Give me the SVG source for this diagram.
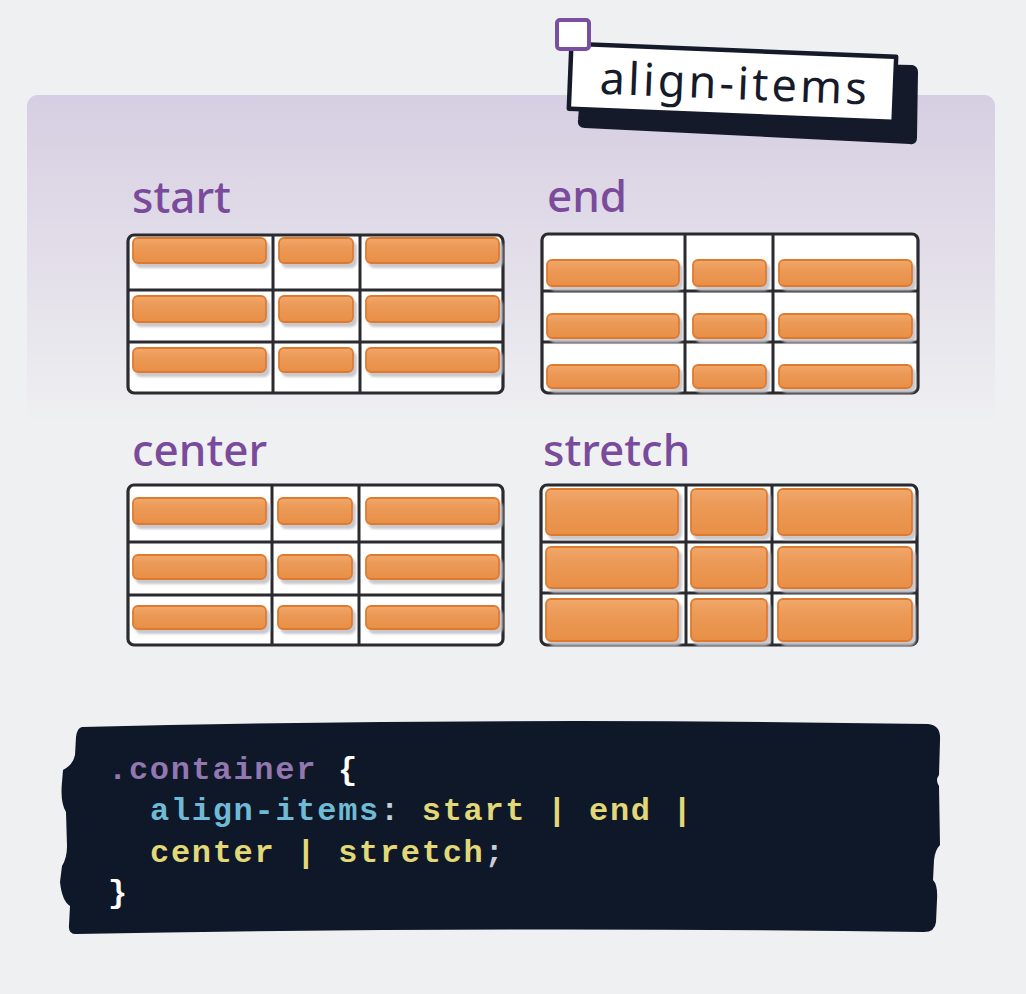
<svg xmlns="http://www.w3.org/2000/svg" width="1026" height="994" viewBox="0 0 1026 994">
<defs>
<linearGradient id="panelGrad" x1="0" y1="0" x2="0" y2="1">
<stop offset="0" stop-color="#d6cee2"/>
<stop offset="0.55" stop-color="#e4e0ea"/>
<stop offset="1" stop-color="#eff0f2"/>
</linearGradient>
<linearGradient id="barGrad" x1="0" y1="0" x2="0" y2="1">
<stop offset="0" stop-color="#f0a86c"/>
<stop offset="0.35" stop-color="#ec9a57"/>
<stop offset="1" stop-color="#e88f47"/>
</linearGradient>
<filter id="barShadow" x="-10%" y="-20%" width="130%" height="160%">
<feDropShadow dx="3" dy="4" stdDeviation="0.8" flood-color="#c2c2c7" flood-opacity="0.9"/>
</filter>
</defs>
<style>
.label{font-family:"Noto Sans","Open Sans",sans-serif;font-size:44px;font-weight:500;fill:#7a4b9b}
.cell{fill:#ffffff;stroke:#2b2b2f;stroke-width:3.2}
.gl{stroke:#2b2b2f;stroke-width:3;stroke-linecap:round;fill:none}
.bar{fill:url(#barGrad);stroke:#de7a2e;stroke-width:1.8}
.code{font-family:"Liberation Mono","DejaVu Sans Mono",monospace;font-size:32px;font-weight:bold;letter-spacing:1.7px}
.pu{fill:#9277b0}.cy{fill:#6fbbd6}.ye{fill:#e2d878}.wh{fill:#ffffff}.gr{fill:#c9cdd6}
</style>
<rect width="1026" height="994" fill="#eff0f2"/>
<g id="panel">
<rect x="27" y="95" width="968" height="330" rx="11" fill="url(#panelGrad)"/>
</g>
<g id="title">
<path d="M585 60 L912 67 Q916 68 916 72 L915 138 Q915 143 910 142 L585 126 Q579 126 580 120 Z" fill="#151a2a" stroke="#151a2a" stroke-width="4" stroke-linejoin="round"/>
<g transform="rotate(2.3 732.5 82.75)">
<rect x="570" y="50.25" width="325" height="65" fill="#ffffff" stroke="#151a2a" stroke-width="4.5" stroke-linejoin="round"/>
<text x="735" y="99" text-anchor="middle" font-family="Noto Sans, Open Sans, sans-serif" font-size="45" letter-spacing="3.2" fill="#161b2b">align-items</text>
</g>
<rect x="557" y="20" width="32" height="29" rx="3" fill="#ffffff" stroke="#7b4fa0" stroke-width="4"/>
</g>
<g id="node-start">
<text class="label" x="132" y="213">start</text>
<rect class="cell" x="128" y="235" width="375" height="158" rx="6"/>
<path class="gl" d="M273 236 L273 392 M360 236 L360 392 M129 290 L502 290 M129 342 L502 342"/>
<g filter="url(#barShadow)">
<rect class="bar" x="133" y="238" width="133" height="25" rx="5"/>
<rect class="bar" x="279" y="238" width="74" height="25" rx="5"/>
<rect class="bar" x="366" y="238" width="133" height="25" rx="5"/>
<rect class="bar" x="133" y="296" width="133" height="26" rx="5"/>
<rect class="bar" x="279" y="296" width="74" height="26" rx="5"/>
<rect class="bar" x="366" y="296" width="133" height="26" rx="5"/>
<rect class="bar" x="133" y="348" width="133" height="24" rx="5"/>
<rect class="bar" x="279" y="348" width="74" height="24" rx="5"/>
<rect class="bar" x="366" y="348" width="133" height="24" rx="5"/>
</g>
</g>
<g id="node-end">
<text class="label" x="547" y="212">end</text>
<rect class="cell" x="542" y="234" width="376" height="159" rx="6"/>
<path class="gl" d="M685 235 L685 392 M773 235 L773 392 M543 291 L917 291 M543 342 L917 342"/>
<g filter="url(#barShadow)">
<rect class="bar" x="547" y="260" width="132" height="26" rx="5"/>
<rect class="bar" x="693" y="260" width="73" height="26" rx="5"/>
<rect class="bar" x="779" y="260" width="133" height="26" rx="5"/>
<rect class="bar" x="547" y="314" width="132" height="24" rx="5"/>
<rect class="bar" x="693" y="314" width="73" height="24" rx="5"/>
<rect class="bar" x="779" y="314" width="133" height="24" rx="5"/>
<rect class="bar" x="547" y="365" width="132" height="23" rx="5"/>
<rect class="bar" x="693" y="365" width="73" height="23" rx="5"/>
<rect class="bar" x="779" y="365" width="133" height="23" rx="5"/>
</g>
</g>
<g id="node-center">
<text class="label" x="132" y="466">center</text>
<rect class="cell" x="128" y="485" width="375" height="160" rx="6"/>
<path class="gl" d="M272 486 L272 644 M359 486 L359 644 M129 542 L502 542 M129 595 L502 595"/>
<g filter="url(#barShadow)">
<rect class="bar" x="133" y="498" width="133" height="26" rx="5"/>
<rect class="bar" x="278" y="498" width="74" height="26" rx="5"/>
<rect class="bar" x="366" y="498" width="133" height="26" rx="5"/>
<rect class="bar" x="133" y="555" width="133" height="24" rx="5"/>
<rect class="bar" x="278" y="555" width="74" height="24" rx="5"/>
<rect class="bar" x="366" y="555" width="133" height="24" rx="5"/>
<rect class="bar" x="133" y="606" width="133" height="23" rx="5"/>
<rect class="bar" x="278" y="606" width="74" height="23" rx="5"/>
<rect class="bar" x="366" y="606" width="133" height="23" rx="5"/>
</g>
</g>
<g id="node-stretch">
<text class="label" x="543" y="466">stretch</text>
<rect class="cell" x="541" y="485" width="376" height="160" rx="6"/>
<path class="gl" d="M686 486 L686 644 M772 486 L772 644 M542 542 L916 542 M542 593 L916 593"/>
<g filter="url(#barShadow)">
<rect class="bar" x="546" y="489" width="132" height="46" rx="5"/>
<rect class="bar" x="691" y="489" width="76" height="46" rx="5"/>
<rect class="bar" x="778" y="489" width="134" height="46" rx="5"/>
<rect class="bar" x="546" y="547" width="132" height="41" rx="5"/>
<rect class="bar" x="691" y="547" width="76" height="41" rx="5"/>
<rect class="bar" x="778" y="547" width="134" height="41" rx="5"/>
<rect class="bar" x="546" y="599" width="132" height="42" rx="5"/>
<rect class="bar" x="691" y="599" width="76" height="42" rx="5"/>
<rect class="bar" x="778" y="599" width="134" height="42" rx="5"/>
</g>
</g>
<g id="node-code">
<path d="M82 727 Q500 717 928 724 Q941 725 940 740 L939 775 Q935 780 939 786 L940 845 Q935 850 934 860 L933 880 Q938 885 937 900 L936 922 Q935 932 924 932 Q500 926 76 934 Q68 934 69 925 L70 906 Q62 901 60 882 L62 866 Q67 858 67 846 L66 812 Q60 802 62 782 L63 770 Q73 765 75 755 L76 737 Q77 728 82 727 Z" fill="#0f1828"/>
<text class="code" x="108" y="779"><tspan class="pu">.container</tspan><tspan class="wh"> {</tspan></text>
<text class="code" x="150" y="820"><tspan class="cy">align-items</tspan><tspan class="gr">: </tspan><tspan class="ye">start | end |</tspan></text>
<text class="code" x="150" y="862"><tspan class="ye">center | stretch</tspan><tspan class="gr">;</tspan></text>
<text class="code wh" x="108" y="902">}</text>
</g>
</svg>
